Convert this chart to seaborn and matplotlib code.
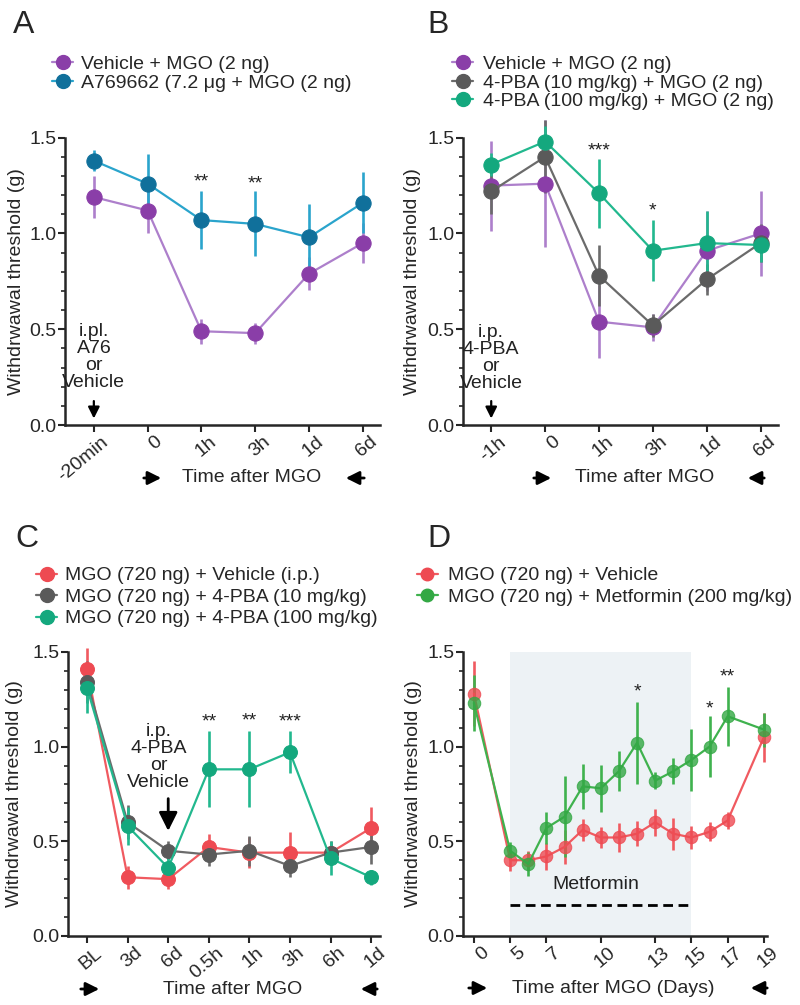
import numpy as np
import pandas as pd
import matplotlib
matplotlib.use('Agg')
import matplotlib.pyplot as plt
import matplotlib.transforms as mtransforms
from matplotlib.lines import Line2D
import seaborn as sns

sns.set_style('ticks')
plt.rcParams['font.family'] = ['Liberation Sans', 'DejaVu Sans']

# ---- panel A data (mean, sem) ----
a_labels = ['-20min', '0', '1h', '3h', '1d', '6d']
a_veh = [1.19, 1.12, 0.49, 0.48, 0.79, 0.95]
a_veh_err = [0.11, 0.12, 0.065, 0.055, 0.085, 0.105]
a_a76 = [1.38, 1.26, 1.07, 1.05, 0.98, 1.16]
a_a76_err = [0.055, 0.155, 0.15, 0.17, 0.175, 0.16]

# ---- panel B data ----
b_labels = ['-1h', '0', '1h', '3h', '1d', '6d']
b_veh = [1.25, 1.26, 0.54, 0.51, 0.91, 1.00]
b_veh_err = [0.235, 0.33, 0.19, 0.07, 0.21, 0.22]
b_pba10 = [1.22, 1.40, 0.78, 0.52, 0.76, 0.95]
b_pba10_err = [0.12, 0.19, 0.16, 0.06, 0.08, 0.10]
b_pba100 = [1.36, 1.48, 1.21, 0.91, 0.95, 0.94]
b_pba100_err = [0.06, 0.08, 0.18, 0.16, 0.17, 0.09]

# ---- panel C data ----
c_labels = ['BL', '3d', '6d', '0.5h', '1h', '3h', '6h', '1d']
c_veh = [1.41, 0.31, 0.30, 0.47, 0.44, 0.44, 0.44, 0.57]
c_veh_err = [0.11, 0.06, 0.05, 0.07, 0.08, 0.11, 0.05, 0.11]
c_pba10 = [1.34, 0.60, 0.45, 0.43, 0.45, 0.37, 0.44, 0.47]
c_pba10_err = [0.11, 0.09, 0.05, 0.06, 0.08, 0.06, 0.06, 0.09]
c_pba100 = [1.31, 0.58, 0.36, 0.88, 0.88, 0.97, 0.41, 0.31]
c_pba100_err = [0.13, 0.10, 0.07, 0.20, 0.20, 0.11, 0.09, 0.04]

# ---- panel D data ----
d_days = [0, 5, 6, 7, 8, 9, 10, 11, 12, 13, 14, 15, 16, 17, 19]
d_veh = [1.28, 0.40, 0.40, 0.42, 0.47, 0.56, 0.52, 0.52, 0.54, 0.60, 0.54, 0.52, 0.55, 0.61, 1.05]
d_veh_err = [0.17, 0.055, 0.05, 0.07, 0.09, 0.06, 0.055, 0.075, 0.065, 0.07, 0.085, 0.06, 0.05, 0.045, 0.13]
d_met = [1.23, 0.45, 0.38, 0.57, 0.63, 0.79, 0.78, 0.87, 1.02, 0.82, 0.87, 0.93, 1.00, 1.16, 1.09]
d_met_err = [0.15, 0.045, 0.065, 0.085, 0.215, 0.12, 0.125, 0.105, 0.215, 0.045, 0.07, 0.165, 0.16, 0.155, 0.09]
d_ticks = [0, 5, 7, 10, 13, 15, 17, 19]

# day 0 sits on a broken axis, drawn at position 3
def day_pos(d):
    return 3 if d == 0 else d

PURPLE, PURPLE_M = '#ad7fcb', '#8a3ea8'
TEAL, TEAL_M = '#2aa4cc', '#10709b'
GRAY, GRAY_M = '#6b6b6b', '#5a5a5a'
GREEN, GREEN_M = '#22b88e', '#14a87e'
RED, RED_M = '#f05a60', '#ee4a52'
LGREEN, LGREEN_M = '#3fb24e', '#33a844'

FS = 14

fig = plt.figure(figsize=(8, 10.05), dpi=100)
axA = fig.add_axes([0.081, 0.577, 0.394, 0.286])
axB = fig.add_axes([0.579, 0.577, 0.394, 0.286])
axC = fig.add_axes([0.085, 0.0687, 0.39, 0.2826])
axD = fig.add_axes([0.579, 0.0687, 0.38, 0.2826])


def draw_series(ax, x, y, err, col, mcol, ms):
    y = np.asarray(y)
    err = np.asarray(err)
    ax.vlines(x, y - err, y + err, color=col, lw=1.9, zorder=2, clip_on=False)
    df = pd.DataFrame({'x': x, 'y': y})
    sns.lineplot(data=df, x='x', y='y', ax=ax, color=col, lw=1.6, marker='o',
                 markersize=ms, markerfacecolor=mcol, markeredgecolor=mcol,
                 zorder=3, clip_on=False, legend=False)


def style(ax, xlim, ylab_x):
    ax.set_ylim(0, 1.5)
    ax.set_xlim(*xlim)
    ax.set_yticks([0, 0.5, 1.0, 1.5])
    ax.set_yticklabels(['0.0', '0.5', '1.0', '1.5'])
    ax.set_yticks(np.arange(0, 1.51, 0.1), minor=True)
    ax.tick_params(axis='both', which='major', labelsize=FS, length=5, width=1.5, pad=1)
    ax.tick_params(axis='y', which='minor', length=3, width=1.2)
    ax.tick_params(axis='x', which='minor', length=0)
    for s in ['left', 'bottom']:
        ax.spines[s].set_linewidth(1.8)
    sns.despine(ax=ax)
    ax.set_xlabel('')
    ax.set_ylabel('Withdrwawal threshold (g)', fontsize=FS)
    ax.yaxis.set_label_coords(ylab_x, 0.5)
    off = mtransforms.ScaledTranslation(5 / 72, 0, fig.dpi_scale_trans)
    for lab in ax.get_xticklabels():
        lab.set_rotation(40)
        lab.set_ha('right')
        lab.set_va('top')
        lab.set_rotation_mode('anchor')
        lab.set_transform(lab.get_transform() + off)


def stars(ax, pts):
    for x, y, s in pts:
        ax.text(x, y, s, ha='center', va='center', fontsize=FS, color='#222222')


def legend(handles, labels, x, y, spacing, pad):
    fig.legend(handles, labels, loc='upper left', bbox_to_anchor=(x, y),
               bbox_transform=fig.transFigure, frameon=False, fontsize=FS,
               handlelength=1.1, handletextpad=pad, labelspacing=spacing,
               borderpad=0, borderaxespad=0)


def handle(col, mcol, ms):
    return Line2D([0], [0], color=col, lw=1.6, marker='o', markersize=ms,
                  markerfacecolor=mcol, markeredgecolor=mcol)


# ---- A ----
xa = np.arange(len(a_labels))
draw_series(axA, xa, a_veh, a_veh_err, PURPLE, PURPLE_M, 11)
draw_series(axA, xa, a_a76, a_a76_err, TEAL, TEAL_M, 11)
axA.set_xticks(xa)
axA.set_xticklabels(a_labels)
style(axA, (-0.54, 5.32), -0.125)
stars(axA, [(2, 1.27, '**'), (3, 1.26, '**')])
axA.text(0, 0.355, 'i.pl.\nA76\nor\nVehicle', ha='center', va='center', fontsize=FS,
         linespacing=1.0, color='#222222')
axA.annotate('', xy=(0, 0.02), xytext=(0, 0.14),
             arrowprops=dict(arrowstyle='-|>', color='black', lw=1.6, mutation_scale=17))
fig.text(0.016, 0.967, 'A', fontsize=23, va='baseline')
legend([handle(PURPLE, PURPLE_M, 10), handle(TEAL, TEAL_M, 10)],
       ['Vehicle + MGO (2 ng)', 'A769662 (7.2 μg + MGO (2 ng)'], 0.065, 0.945, 0.055, 0.4)

# ---- B ----
xb = np.arange(len(b_labels))
draw_series(axB, xb, b_veh, b_veh_err, PURPLE, PURPLE_M, 11)
draw_series(axB, xb, b_pba10, b_pba10_err, GRAY, GRAY_M, 11)
draw_series(axB, xb, b_pba100, b_pba100_err, GREEN, GREEN_M, 11)
axB.set_xticks(xb)
axB.set_xticklabels(b_labels)
style(axB, (-0.52, 5.33), -0.133)
stars(axB, [(2, 1.43, '***'), (3, 1.12, '*')])
axB.text(0, 0.35, 'i.p.\n4-PBA\nor\nVehicle', ha='center', va='center', fontsize=FS,
         linespacing=1.0, color='#222222')
axB.annotate('', xy=(0, 0.02), xytext=(0, 0.14),
             arrowprops=dict(arrowstyle='-|>', color='black', lw=1.6, mutation_scale=17))
fig.text(0.534, 0.967, 'B', fontsize=23, va='baseline')
legend([handle(PURPLE, PURPLE_M, 10), handle(GRAY, GRAY_M, 10), handle(GREEN, GREEN_M, 10)],
       ['Vehicle + MGO (2 ng)', '4-PBA (10 mg/kg) + MGO (2 ng)', '4-PBA (100 mg/kg) + MGO (2 ng)'],
       0.565, 0.945, 0.055, 0.5)

# ---- C ----
xc = np.arange(len(c_labels))
draw_series(axC, xc, c_veh, c_veh_err, RED, RED_M, 10)
draw_series(axC, xc, c_pba10, c_pba10_err, GRAY, GRAY_M, 10)
draw_series(axC, xc, c_pba100, c_pba100_err, GREEN, GREEN_M, 10)
axC.set_xticks(xc)
axC.set_xticklabels(c_labels)
style(axC, (-0.47, 7.22), -0.145)
stars(axC, [(3, 1.13, '**'), (4, 1.135, '**'), (5, 1.13, '***')])
axC.text(1.77, 0.944, 'i.p.\n4-PBA\nor\nVehicle', ha='center', va='center', fontsize=FS,
         linespacing=1.0, color='#222222')
axC.annotate('', xy=(2, 0.54), xytext=(2, 0.74),
             arrowprops=dict(arrowstyle='-|>', color='black', lw=2, mutation_scale=28))
fig.text(0.019, 0.4557, 'C', fontsize=23, va='baseline')
legend([handle(RED, RED_M, 10), handle(GRAY, GRAY_M, 10), handle(GREEN, GREEN_M, 10)],
       ['MGO (720 ng) + Vehicle (i.p.)', 'MGO (720 ng) + 4-PBA (10 mg/kg)',
        'MGO (720 ng) + 4-PBA (100 mg/kg)'], 0.045, 0.436, 0.2, 0.4)

# ---- D ----
xd = np.array([day_pos(d) for d in d_days])
axD.axvspan(5, 15, color='#edf2f5', zorder=0, lw=0)
axD.plot([5, 15], [0.165, 0.165], color='black', lw=2, ls=(0, (3.5, 2)), zorder=1)
axD.text(9.75, 0.27, 'Metformin', ha='center', va='center', fontsize=FS, color='#222222')
draw_series(axD, xd, d_veh, d_veh_err, RED, RED_M + 'cc', 9)
draw_series(axD, xd, d_met, d_met_err, LGREEN, LGREEN_M + 'cc', 9)
axD.set_xticks([day_pos(d) for d in d_ticks])
axD.set_xticklabels([str(d) for d in d_ticks])
style(axD, (2.41, 19.18), -0.135)
stars(axD, [(12, 1.29, '*'), (16, 1.20, '*'), (17, 1.37, '**')])
fig.text(0.534, 0.4557, 'D', fontsize=23, va='baseline')
legend([handle(RED, RED_M, 9), handle(LGREEN, LGREEN_M, 9)],
       ['MGO (720 ng) + Vehicle', 'MGO (720 ng) + Metformin (200 mg/kg)'],
       0.521, 0.436, 0.2, 0.5)

# x-axis captions with arrows
for cx, y, xl, xr, txt in [(252, 478, (141, 164), (343, 367), 'Time after MGO'),
                           (645, 478, (531, 554), (745, 767), 'Time after MGO'),
                           (233, 989, (78, 102), (358, 380), 'Time after MGO'),
                           (613, 988, (466, 490), (748, 770), 'Time after MGO (Days)')]:
    fy = 1 - y / 1005
    fig.text(cx / 800, fy, txt, ha='center', va='center', fontsize=FS)
    for x0, x1 in [(xl[0], xl[1]), (xr[1], xr[0])]:
        fig.add_artist(matplotlib.patches.FancyArrowPatch(
            (x0 / 800, fy), (x1 / 800, fy), transform=fig.transFigure,
            arrowstyle='-|>', mutation_scale=20, lw=2, color='black'))

fig.savefig('out.png', dpi=100)
